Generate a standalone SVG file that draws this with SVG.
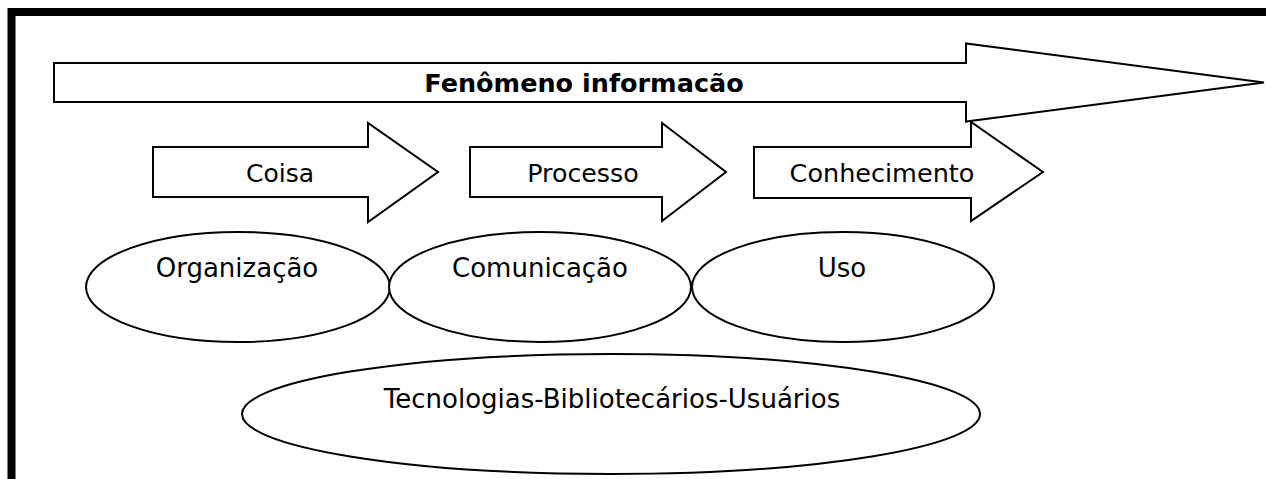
<svg xmlns="http://www.w3.org/2000/svg" width="1266" height="479" viewBox="0 0 1266 479">
<style>
.shape{fill:#fff;stroke:#000;stroke-width:2;stroke-linejoin:miter}
.lbl{font-family:"DejaVu Sans","Verdana",sans-serif;fill:#000;text-anchor:middle}
.b{font-weight:bold}
</style>
<rect x="0" y="0" width="1266" height="479" fill="#fff"/>
<g id="frame">
<path d="M11.5,479 V12 H1266" fill="none" stroke="#000" stroke-width="8"/>
</g>
<g id="fenomeno">
<polygon class="shape" points="54,63 966,63 966,43.5 1264,82.5 966,121.5 966,102 54,102"/>
<text class="lbl b" x="584" y="92" font-size="25.5">Fenômeno informacão</text>
</g>
<g id="coisa">
<polygon class="shape" points="153,147 368,147 368,123 438,172 368,222 368,197 153,197"/>
<text class="lbl" x="280" y="182" font-size="25">Coisa</text>
</g>
<g id="processo">
<polygon class="shape" points="470,147 662,147 662,123 726,172 662,221 662,197 470,197"/>
<text class="lbl" x="583" y="182" font-size="25.3">Processo</text>
</g>
<g id="conhecimento">
<polygon class="shape" points="754,147 971,147 971,122 1043,172 971,221 971,198 754,198"/>
<text class="lbl" x="882" y="182" font-size="25.5">Conhecimento</text>
</g>
<g id="organizacao">
<ellipse class="shape" cx="238" cy="287" rx="152" ry="55"/>
<text class="lbl" x="237" y="277" font-size="26">Organização</text>
</g>
<g id="comunicacao">
<ellipse class="shape" cx="540" cy="287" rx="151" ry="55"/>
<text class="lbl" x="540" y="277" font-size="26">Comunicação</text>
</g>
<g id="uso">
<ellipse class="shape" cx="843" cy="287" rx="151" ry="55"/>
<text class="lbl" x="842" y="277" font-size="26">Uso</text>
</g>
<g id="tecnologias">
<ellipse class="shape" cx="611" cy="414" rx="369" ry="60"/>
<text class="lbl" x="612" y="408" font-size="26">Tecnologias-Bibliotecários-Usuários</text>
</g>
<g id="connectors"></g>
</svg>
